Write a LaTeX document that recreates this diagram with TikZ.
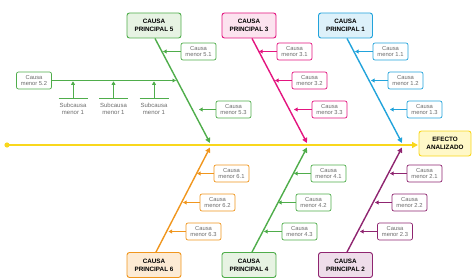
\documentclass[tikz,border=0pt]{standalone}
\usepackage{fontspec}
\setmainfont{Liberation Sans}
\usetikzlibrary{arrows.meta}
\definecolor{cgreen}{HTML}{4FAD4B}
\definecolor{cgreenL}{HTML}{E7F3E3}
\definecolor{cmag}{HTML}{E3157F}
\definecolor{cmagL}{HTML}{FCE3EF}
\definecolor{cblue}{HTML}{22A3DB}
\definecolor{cblueL}{HTML}{DDF1FA}
\definecolor{corange}{HTML}{F0961E}
\definecolor{corangeL}{HTML}{FDEBD4}
\definecolor{cpurple}{HTML}{8F2570}
\definecolor{cpurpleL}{HTML}{EEDDEA}
\definecolor{cyel}{HTML}{F9D71C}
\definecolor{cyelL}{HTML}{FFF8C8}
\definecolor{ctext}{HTML}{6B6B6B}
\tikzset{
  princ/.style={draw=#1, fill=#1L, line width=0.9pt, rounded corners=2.5pt,
    minimum width=54pt, minimum height=25pt, align=center, inner sep=1pt,
    font=\fontsize{6.3}{8}\selectfont\bfseries, text=black},
  minor/.style={draw=#1, fill=white, line width=0.7pt, rounded corners=2pt,
    minimum width=35pt, minimum height=17pt, align=center, inner sep=0.5pt,
    font=\fontsize{5.8}{6.8}\selectfont, text=ctext},
  subl/.style={align=center, inner sep=0pt, font=\fontsize{6}{7}\selectfont, text=ctext},
  bone/.style={draw=#1, line width=1.4pt, -{Triangle[length=5pt,width=5pt]}},
  twig/.style={draw=#1, line width=0.8pt, -{Triangle[length=3.5pt,width=3.8pt]}},
}
\begin{document}
\begin{tikzpicture}[x=1pt,y=-1pt]
\useasboundingbox (0,0) rectangle (474,278);
% effect and spine
\node[draw=cyel, fill=cyelL, line width=0.9pt, rounded corners=2.5pt, minimum width=52pt,
  minimum height=25pt, align=center, inner sep=1pt,
  font=\fontsize{6.3}{8}\selectfont\bfseries] (efe) at (445,143.5) {EFECTO\\ANALIZADO};
\coordinate (s0) at (7,145);
\coordinate (s1) at (418,145);
\fill[cyel] (s0) circle (2.6pt);
\draw[cyel, line width=1.8pt, -{Triangle[length=6pt,width=6pt]}] (s0) -- (s1);
% principal boxes
\node[princ=cgreen] (p5) at (154,25.5) {CAUSA\\PRINCIPAL 5};
\node[princ=cmag] (p3) at (249,25.5) {CAUSA\\PRINCIPAL 3};
\node[princ=cblue] (p1) at (345.5,25.5) {CAUSA\\PRINCIPAL 1};
\node[princ=corange] (p6) at (154,265) {CAUSA\\PRINCIPAL 6};
\node[princ=cgreen] (p4) at (249,265) {CAUSA\\PRINCIPAL 4};
\node[princ=cpurple] (p2) at (345.5,265) {CAUSA\\PRINCIPAL 2};
% bone ends
\coordinate (b5) at (210,143);
\coordinate (b3) at (307,143);
\coordinate (b1) at (402,143);
\coordinate (b6) at (210,147.5);
\coordinate (b4) at (307,147.5);
\coordinate (b2) at (402,147.5);
\draw[bone=cgreen] (p5.south) ++(1,0) coordinate (t5) -- (b5);
\draw[bone=cmag] (p3.south) ++(3,0) coordinate (t3) -- (b3);
\draw[bone=cblue] (p1.south) ++(1.5,0) coordinate (t1) -- (b1);
\draw[bone=corange] (p6.north) ++(2,0) coordinate (t6) -- (b6);
\draw[bone=cgreen] (p4.north) ++(3,0) coordinate (t4) -- (b4);
\draw[bone=cpurple] (p2.north) ++(1.5,0) coordinate (t2) -- (b2);
% minor boxes
\node[minor=cgreen] (m51) at (198.5,51.5) {Causa\\menor 5.1};
\node[minor=cgreen] (m52) at (34,80.5) {Causa\\menor 5.2};
\node[minor=cgreen] (m53) at (233.5,109.5) {Causa\\menor 5.3};
\node[minor=cmag] (m31) at (294.5,51.5) {Causa\\menor 3.1};
\node[minor=cmag] (m32) at (309.5,80.5) {Causa\\menor 3.2};
\node[minor=cmag] (m33) at (329.5,109.5) {Causa\\menor 3.3};
\node[minor=cblue] (m11) at (390.5,51.5) {Causa\\menor 1.1};
\node[minor=cblue] (m12) at (405.5,80.5) {Causa\\menor 1.2};
\node[minor=cblue] (m13) at (424.5,109.5) {Causa\\menor 1.3};
\node[minor=corange] (m61) at (231.5,173.5) {Causa\\menor 6.1};
\node[minor=corange] (m62) at (217.5,202.5) {Causa\\menor 6.2};
\node[minor=corange] (m63) at (203.5,231.5) {Causa\\menor 6.3};
\node[minor=cgreen] (m41) at (328.5,173.5) {Causa\\menor 4.1};
\node[minor=cgreen] (m42) at (313.5,202.5) {Causa\\menor 4.2};
\node[minor=cgreen] (m43) at (299.5,231.5) {Causa\\menor 4.3};
\node[minor=cpurple] (m21) at (424.5,173.5) {Causa\\menor 2.1};
\node[minor=cpurple] (m22) at (409.5,202.5) {Causa\\menor 2.2};
\node[minor=cpurple] (m23) at (395,231.5) {Causa\\menor 2.3};
% twig tips
\coordinate (e51) at (163,51.5);
\coordinate (e52) at (176,80.5);
\coordinate (e53) at (199,109.5);
\coordinate (e31) at (259,51.5);
\coordinate (e32) at (275,80.5);
\coordinate (e33) at (294,109.5);
\coordinate (e11) at (355,51.5);
\coordinate (e12) at (371,80.5);
\coordinate (e13) at (390,109.5);
\coordinate (e61) at (197,173.5);
\coordinate (e62) at (183,202.5);
\coordinate (e63) at (168.5,231.5);
\coordinate (e41) at (294,173.5);
\coordinate (e42) at (278,202.5);
\coordinate (e43) at (264,231.5);
\coordinate (e21) at (390,173.5);
\coordinate (e22) at (375,202.5);
\coordinate (e23) at (360,231.5);
\foreach \m/\c in {51/cgreen,52/cgreen,53/cgreen,31/cmag,32/cmag,33/cmag,11/cblue,12/cblue,13/cblue,61/corange,62/corange,63/corange,41/cgreen,42/cgreen,43/cgreen,21/cpurple,22/cpurple,23/cpurple}
  {\ifnum\m=52 \draw[twig=\c] (m\m.east) -- (e\m); \else \draw[twig=\c] (m\m.west) -- (e\m);\fi}
% sub-causes
\foreach \i/\x in {a/73,b/113.5,c/154}{
  \coordinate (sl\i) at (\x-14.5,98.5);
  \coordinate (sr\i) at (\x+14.5,98.5);
  \coordinate (sm\i) at (\x,98.5);
  \coordinate (st\i) at (\x,81.3);
  \draw[cgreen, line width=0.8pt] (sl\i) -- (sr\i);
  \draw[twig=cgreen] (sm\i) -- (st\i);
  \node[subl] (sn\i) at (\x,109) {Subcausa\\menor 1};
}
\end{tikzpicture}
\end{document}
